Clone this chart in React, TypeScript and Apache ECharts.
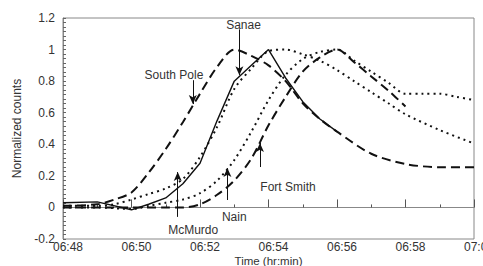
import React, { useEffect, useRef } from "react";
import * as echarts from "echarts";

// Time in minutes after 06:00
const xTicks = [48, 50, 52, 54, 56, 58, 60];

const southPoleTime = [48, 49, 49.5, 50, 50.5, 51, 51.5, 52, 52.5, 53, 53.5, 54, 54.5, 55, 55.5, 56, 57, 58, 59, 60];
const southPole = [0.01, 0.02, 0.05, 0.095, 0.22, 0.37, 0.54, 0.72, 0.89, 1.0, 0.96, 0.9, 0.8, 0.66, 0.56, 0.48, 0.34, 0.275, 0.255, 0.255];

const mcMurdoTime = [48, 49, 50, 50.5, 51, 51.5, 52, 52.5, 53, 53.5, 54, 54.5, 55, 55.5, 56];
const mcMurdo = [0.03, 0.035, -0.015, 0.02, 0.06, 0.15, 0.28, 0.55, 0.8, 0.9, 1.0, 0.82, 0.67, 0.56, 0.48];

const sanaeTime = [48, 49, 49.5, 50, 50.5, 51, 51.5, 52, 52.5, 53, 53.5, 54, 54.5, 55, 55.5, 56, 56.5, 57, 57.5, 58, 59, 60];
const sanae = [0.01, 0.01, 0.02, 0.05, 0.085, 0.12, 0.18, 0.32, 0.51, 0.75, 0.88, 0.99, 1.0, 0.97, 0.93, 0.87, 0.8, 0.73, 0.66, 0.59, 0.49, 0.405];

const nainTime = [48, 49, 50, 50.5, 51, 51.5, 52, 52.5, 53, 53.5, 54, 54.5, 55, 55.5, 56, 56.5, 57, 57.5, 58, 58.5, 59, 59.5, 60];
const nain = [0.0, 0.0, -0.01, 0.01, 0.03, 0.05, 0.09, 0.17, 0.3, 0.48, 0.68, 0.84, 0.94, 0.985, 1.0, 0.93, 0.86, 0.79, 0.72, 0.72, 0.72, 0.7, 0.68];

const fortSmithTime = [48, 49, 50, 51, 51.5, 52, 52.5, 53, 53.5, 54, 54.5, 55, 55.5, 56, 56.5, 57, 57.5, 58];
const fortSmith = [0.0, 0.0, 0.0, 0.0, 0.0, 0.02, 0.08, 0.17, 0.31, 0.52, 0.7, 0.86, 0.95, 1.0, 0.92, 0.83, 0.74, 0.64];

// Annotations (data coordinates): label text, label position, arrow x, arrow start y, arrow tip y
const annoNames = ["South Pole", "Sanae", "McMurdo", "Nain", "Fort Smith"];
const annoLabelX = [51.24, 53.27, 51.8, 53.0, 54.57];
const annoLabelY = [0.838, 1.157, -0.143, -0.061, 0.129];
const annoArrowX = [51.79, 53.15, 51.35, 52.8, 53.75];
const annoArrowFrom = [0.806, 1.128, -0.06, 0.047, 0.256];
const annoArrowTo = [0.655, 0.838, 0.224, 0.249, 0.408];

const zip = (t: number[], v: number[]) => t.map((x, i) => [x, v[i]]);
const fmtTime = (v: number) => {
  const h = 6 + Math.floor(v / 60);
  const m = v % 60;
  return String(h).padStart(2, "0") + ":" + String(m).padStart(2, "0");
};

const FONT = "Arial, 'Liberation Sans', sans-serif";
const INK = "#111";

export default function App() {
  const ref = useRef<HTMLDivElement>(null);
  useEffect(() => {
    if (!ref.current) return;
    const chart = echarts.init(ref.current, undefined, { renderer: "svg" });
    const dashed = { color: INK, width: 2, type: [9, 5] as any };
    const dotted = { color: INK, width: 2, type: [2, 4] as any };
    chart.setOption({
      animation: false,
      backgroundColor: "#fff",
      grid: {
        left: 63,
        right: 9,
        top: 18,
        bottom: 27,
        show: true,
        borderColor: "#888",
        borderWidth: 1,
        containLabel: false,
        outerBoundsMode: "none",
      },
      xAxis: {
        type: "value",
        min: xTicks[0],
        max: xTicks[xTicks.length - 1],
        interval: 2,
        name: "Time (hr:min)",
        nameLocation: "middle",
        nameGap: 16,
        nameMoveOverlap: false,
        nameTextStyle: { fontFamily: FONT, fontSize: 11.5, lineHeight: 11, color: "#333", verticalAlign: "top" },
        axisLine: { show: true, lineStyle: { color: "#888" } },
        axisTick: { show: true, inside: true, length: 8, lineStyle: { color: "#555" } },
        minorTick: { show: true, splitNumber: 2, length: 3, lineStyle: { color: "#555" } },
        splitLine: { show: false },
        axisLabel: {
          formatter: (v: number) => fmtTime(v),
          fontFamily: FONT,
          fontSize: 12,
          lineHeight: 12,
          color: "#333",
          margin: 2,
          padding: [0, 0, 0, 10],
        },
      },
      yAxis: {
        type: "value",
        min: -0.2,
        max: 1.2,
        interval: 0.2,
        name: "Normalized counts",
        nameLocation: "middle",
        nameGap: 40,
        nameMoveOverlap: false,
        nameTextStyle: { fontFamily: FONT, fontSize: 12, color: "#333" },
        axisLine: { show: true, lineStyle: { color: "#888" } },
        axisTick: { show: true, inside: true, length: 3, lineStyle: { color: "#666" } },
        minorTick: { show: true, splitNumber: 7, length: 3, lineStyle: { color: "#666" } },
        splitLine: { show: false },
        axisLabel: {
          formatter: (v: number) => String(Math.round(v * 10) / 10),
          fontFamily: FONT,
          fontSize: 12,
          color: "#333",
          margin: 8,
        },
      },
      series: [
        {
          name: "South Pole",
          type: "line",
          data: zip(southPoleTime, southPole),
          showSymbol: false,
          smooth: 0.3,
          lineStyle: dashed,
          markLine: {
            silent: true,
            symbol: ["none", "arrow"],
            symbolSize: [6, 9],
            label: { show: false },
            lineStyle: { color: INK, type: "solid", width: 1 },
            data: annoNames.map((_, i) => [
              { coord: [annoArrowX[i], annoArrowFrom[i]] },
              { coord: [annoArrowX[i], annoArrowTo[i]] },
            ]),
          },
          markPoint: {
            silent: true,
            symbol: "circle",
            symbolSize: 1,
            itemStyle: { color: "rgba(0,0,0,0)" },
            data: annoNames.map((n, i) => ({
              coord: [annoLabelX[i], annoLabelY[i]],
              label: {
                show: true,
                position: "inside",
                formatter: n,
                fontFamily: FONT,
                fontSize: 12,
                color: "#333",
              },
            })),
          },
        },
        {
          name: "McMurdo",
          type: "line",
          data: zip(mcMurdoTime, mcMurdo),
          showSymbol: false,
          lineStyle: { color: INK, width: 1.4, type: "solid" },
        },
        {
          name: "Sanae",
          type: "line",
          data: zip(sanaeTime, sanae),
          showSymbol: false,
          smooth: 0.3,
          lineStyle: dotted,
        },
        {
          name: "Nain",
          type: "line",
          data: zip(nainTime, nain),
          showSymbol: false,
          smooth: 0.3,
          lineStyle: dotted,
        },
        {
          name: "Fort Smith",
          type: "line",
          data: zip(fortSmithTime, fortSmith),
          showSymbol: false,
          smooth: 0.3,
          lineStyle: dashed,
        },
      ],
    });
    return () => chart.dispose();
  }, []);
  return (
    <div
      ref={ref}
      style={{ position: "fixed", left: 0, top: 0, width: 483, height: 266, background: "#fff" }}
    />
  );
}
